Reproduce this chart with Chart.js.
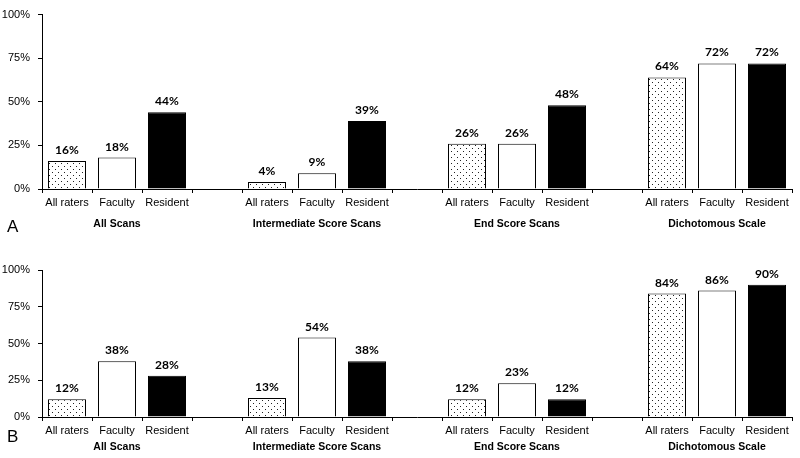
<!DOCTYPE html>
<html>
<head>
<meta charset="utf-8">
<script src="https://cdn.jsdelivr.net/npm/chart.js@4/dist/chart.umd.min.js"></script>
<style>
  html, body { margin: 0; padding: 0; background: #fff; }
  #wrap { position: relative; width: 800px; height: 458px; overflow: hidden; }
  canvas { position: absolute; left: 0; }
</style>
</head>
<body>
<div id="wrap">
  <canvas id="chart-a" width="800" height="240" style="top:0"></canvas>
  <canvas id="chart-b" width="800" height="218" style="top:240px"></canvas>
</div>
<script>
const raters = ['All raters', 'Faculty', 'Resident'];
const groups = ['All Scans', 'Intermediate Score Scans', 'End Score Scans', 'Dichotomous Scale'];
const yTicks = [0, 25, 50, 75, 100];

// percent of agreement, per group: [All raters, Faculty, Resident]
const panelA = [[16, 18, 44], [4, 9, 39], [26, 26, 48], [64, 72, 72]];
const panelB = [[12, 38, 28], [13, 54, 38], [12, 23, 12], [84, 86, 90]];

function dotPattern() {
    const c = document.createElement('canvas');
    c.width = 6; c.height = 6;
    const g = c.getContext('2d');
    g.fillStyle = '#fff';
    g.fillRect(0, 0, 6, 6);
    g.fillStyle = '#222';
    g.fillRect(1, 1, 1, 1);
    g.fillRect(4, 4, 1, 1);
    return g.createPattern(c, 'repeat');
}
const dots = dotPattern();
const fills = [dots, '#fff', '#000'];

// flatten groups into slots, with an empty slot between groups
function flatten(values) {
    const labels = [], data = [], colors = [];
    values.forEach((vals, gi) => {
        vals.forEach((v, i) => {
            labels.push(raters[i]);
            data.push(v);
            colors.push(fills[i]);
        });
        if (gi < values.length - 1) {
            labels.push('');
            data.push(null);
            colors.push('#fff');
        }
    });
    return { labels, data, colors };
}

const valueLabels = {
    id: 'valueLabels',
    afterDatasetsDraw(chart) {
        const ctx = chart.ctx;
        const meta = chart.getDatasetMeta(0);
        const ds = chart.data.datasets[0];
        ctx.save();
        ctx.font = 'bold 12px Lato';
        ctx.fillStyle = '#000';
        ctx.textAlign = 'center';
        ctx.textBaseline = 'alphabetic';
        meta.data.forEach((bar, i) => {
            if (ds.data[i] == null) return;
            ctx.fillText(ds.data[i] + '%', bar.x, bar.y - 7);
        });
        ctx.restore();
    }
};

const groupLabels = {
    id: 'groupLabels',
    afterDraw(chart, args, opts) {
        const ctx = chart.ctx;
        const x = chart.scales.x;
        const bottom = chart.chartArea.bottom;
        ctx.save();
        ctx.fillStyle = '#000';
        ctx.textAlign = 'center';
        ctx.textBaseline = 'middle';
        ctx.font = 'bold 10.5px "Liberation Sans"';
        groups.forEach((g, gi) => {
            const cx = (x.getPixelForValue(gi * 4) + x.getPixelForValue(gi * 4 + 2)) / 2;
            ctx.fillText(g, cx, bottom + opts.groupOffset);
        });
        ctx.font = '17px "Liberation Sans"';
        ctx.textAlign = 'left';
        ctx.fillText(opts.letter, 7, bottom + opts.letterOffset);
        ctx.restore();
    }
};

function makeChart(id, values, top, xHeight, letter, groupOffset, letterOffset) {
    const f = flatten(values);
    new Chart(document.getElementById(id).getContext('2d'), {
        type: 'bar',
        data: {
            labels: f.labels,
            datasets: [{
                data: f.data,
                backgroundColor: f.colors,
                borderColor: '#000',
                borderWidth: 1,
                categoryPercentage: 1,
                barPercentage: 0.76
            }]
        },
        options: {
            responsive: false,
            animation: false,
            layout: { padding: { top: top, right: 8, left: 0, bottom: 0 } },
            plugins: {
                legend: { display: false },
                tooltip: { enabled: false },
                groupLabels: { letter: letter, groupOffset: groupOffset, letterOffset: letterOffset }
            },
            scales: {
                x: {
                    afterFit: s => { s.height = xHeight; },
                    grid: { drawOnChartArea: false, tickLength: 4, color: '#000', offset: true },
                    border: { color: '#000' },
                    ticks: {
                        color: '#000',
                        padding: 3,
                        maxRotation: 0,
                        autoSkip: false,
                        font: { family: 'Liberation Sans', size: 11 }
                    }
                },
                y: {
                    min: 0,
                    max: 100,
                    afterFit: s => { s.width = 42; },
                    afterBuildTicks: s => { s.ticks = yTicks.map(v => ({ value: v })); },
                    grid: { drawOnChartArea: false, tickLength: 4, color: '#000' },
                    border: { color: '#000' },
                    ticks: {
                        color: '#000',
                        padding: 8,
                        font: { family: 'Liberation Sans', size: 11 },
                        callback: v => v + '%'
                    }
                }
            }
        },
        plugins: [valueLabels, groupLabels]
    });
}

makeChart('chart-a', panelA, 11, 51, 'A', 35, 38);
makeChart('chart-b', panelB, 30, 41, 'B', 30, 20);
</script>
</body>
</html>
